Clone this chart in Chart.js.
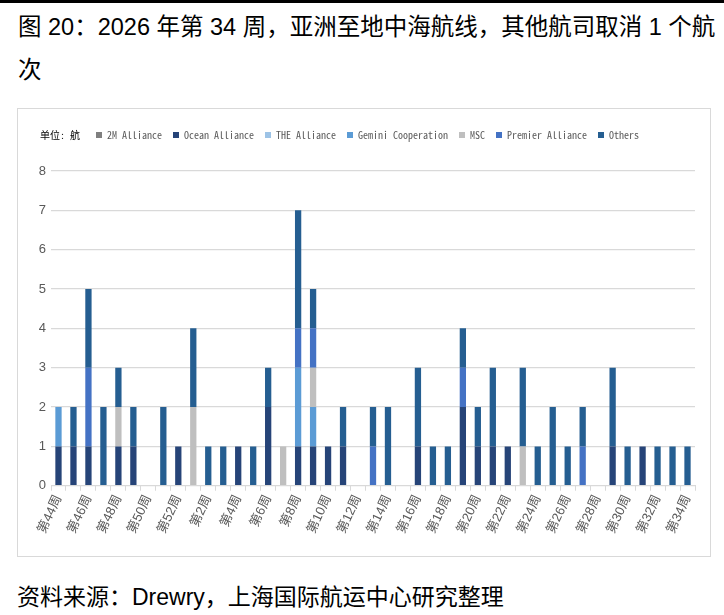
<!DOCTYPE html>
<html>
<head>
<meta charset="utf-8">
<script src="https://cdn.jsdelivr.net/npm/chart.js@4.4.1/dist/chart.umd.min.js"></script>
<style>
  body { margin: 0; background: #fff; width: 724px; height: 615px; position: relative; overflow: hidden;
         font-family: "Liberation Sans", "Noto Sans CJK SC", sans-serif; color: #000; }
  .topbar { position: absolute; left: 0; top: 0; width: 724px; height: 3px; background: #000; }
  .title { position: absolute; left: 18px; top: 6px; width: 704px; font-size: 23.5px; line-height: 43px; }
  .box { position: absolute; left: 17px; top: 108px; width: 694px; height: 449px;
         border: 1px solid #D9D9D9; box-sizing: border-box; }
  .source { position: absolute; left: 17px; top: 582px; font-size: 23px; line-height: 30px; }
</style>
</head>
<body>
<div class="topbar"></div>
<div class="title">图 20：2026 年第 34 周，亚洲至地中海航线，其他航司取消 1 个航次</div>
<div class="box"><canvas id="myChart"></canvas></div>
<div class="source">资料来源：Drewry，上海国际航运中心研究整理</div>
<script>
var weeks = ['第44周', '第45周', '第46周', '第47周', '第48周', '第49周', '第50周', '第51周', '第52周',
  '第1周', '第2周', '第3周', '第4周', '第5周', '第6周', '第7周', '第8周', '第9周', '第10周',
  '第11周', '第12周', '第13周', '第14周', '第15周', '第16周', '第17周', '第18周', '第19周', '第20周',
  '第21周', '第22周', '第23周', '第24周', '第25周', '第26周', '第27周', '第28周', '第29周', '第30周',
  '第31周', '第32周', '第33周', '第34周'];

var allianceNames = ['2M Alliance', 'Ocean Alliance', 'THE Alliance', 'Gemini Cooperation', 'MSC', 'Premier Alliance', 'Others'];
var allianceColors = ['#7F7F7F', '#264478', '#9DC3E6', '#5B9BD5', '#BFBFBF', '#4472C4', '#255E91'];

var twoM    = [0,0,0,0,0,0,0,0,0, 0,0,0,0,0,0,0,0,0,0, 0,0,0,0,0,0,0,0,0,0, 0,0,0,0,0,0,0,0,0,0, 0,0,0,0];
var ocean   = [1,1,1,0,1,1,0,0,1, 0,0,0,1,0,2,0,1,1,1, 1,0,0,0,0,1,0,0,2,1, 1,1,0,0,0,0,0,0,1,0, 1,0,0,0];
var theAll  = [0,0,0,0,0,0,0,0,0, 0,0,0,0,0,0,0,0,0,0, 0,0,0,0,0,0,0,0,0,0, 0,0,0,0,0,0,0,0,0,0, 0,0,0,0];
var gemini  = [1,0,0,0,0,0,0,0,0, 0,0,0,0,0,0,0,2,1,0, 0,0,0,0,0,0,0,0,0,0, 0,0,0,0,0,0,0,0,0,0, 0,0,0,0];
var msc     = [0,0,0,0,1,0,0,0,0, 2,0,0,0,0,0,1,0,1,0, 0,0,0,0,0,0,0,0,0,0, 0,0,1,0,0,0,0,0,0,0, 0,0,0,0];
var premier = [0,0,2,0,0,0,0,0,0, 0,0,0,0,0,0,0,1,1,0, 0,0,1,0,0,0,0,0,1,0, 0,0,0,0,0,0,1,0,0,0, 0,0,0,0];
var others  = [0,1,2,2,1,1,0,2,0, 2,1,1,0,1,1,0,3,1,0, 1,0,1,2,0,2,1,1,1,1, 2,0,2,1,2,1,1,0,2,1, 0,1,1,1];

var yTicks = [0, 1, 2, 3, 4, 5, 6, 7, 8];
var unitLabel = '单位: 航 ';

var series = [twoM, ocean, theAll, gemini, msc, premier, others];

document.addEventListener('DOMContentLoaded', function () {
  var ctx = document.getElementById('myChart').getContext('2d');

  // extra room between legend and plot
  var legendGap = {
    id: 'legendGap',
    beforeInit: function (chart) {
      var fit = chart.legend.fit;
      chart.legend.fit = function () {
        fit.bind(chart.legend)();
        this.height += 21;
      };
    }
  };

  var myChart = new Chart(ctx, {
    type: 'bar',
    data: {
      labels: weeks,
      datasets: series.map(function (values, i) {
        return {
          label: allianceNames[i],
          data: values,
          backgroundColor: allianceColors[i],
          barPercentage: 0.42,
          categoryPercentage: 1
        };
      })
    },
    options: {
      responsive: true,
      maintainAspectRatio: false,
      animation: false,
      layout: { padding: { left: 0, right: 15, top: 10, bottom: 18 } },
      plugins: {
        tooltip: { enabled: false },
        legend: {
          align: 'start',
          labels: {
            boxWidth: 6,
            boxHeight: 6,
            padding: 11,
            color: '#595959',
            font: { family: '"Noto Sans Mono CJK SC", "Liberation Mono", monospace', size: 10 },
            generateLabels: function (chart) {
              var items = Chart.defaults.plugins.legend.labels.generateLabels(chart);
              items.unshift({
                text: unitLabel,
                fillStyle: 'rgba(0,0,0,0)',
                strokeStyle: 'rgba(0,0,0,0)',
                lineWidth: 0,
                hidden: false,
                datasetIndex: -1
              });
              return items;
            }
          }
        }
      },
      scales: {
        x: {
          stacked: true,
          offset: true,
          border: { color: '#D9D9D9' },
          grid: { display: true, drawOnChartArea: false, color: '#D9D9D9', tickLength: 5 },
          ticks: {
            autoSkip: false,
            minRotation: 65,
            maxRotation: 65,
            padding: 2,
            color: '#595959',
            font: { family: '"Liberation Sans Narrow", "Liberation Sans", "Noto Sans CJK SC"', size: 13 },
            callback: function (value, index) {
              return index % 2 === 0 ? weeks[index] : '';
            }
          }
        },
        y: {
          stacked: true,
          min: yTicks[0],
          max: yTicks[yTicks.length - 1],
          border: { display: false },
          grid: { color: '#D9D9D9', drawTicks: false, lineWidth: 1.3 },
          afterFit: function (scale) { scale.width = 33; },
          ticks: {
            stepSize: 1,
            padding: 5,
            color: '#595959',
            font: { family: '"Liberation Sans Narrow", "Liberation Sans"', size: 13 }
          }
        }
      }
    },
    plugins: [legendGap]
  });
});
</script>
</body>
</html>
